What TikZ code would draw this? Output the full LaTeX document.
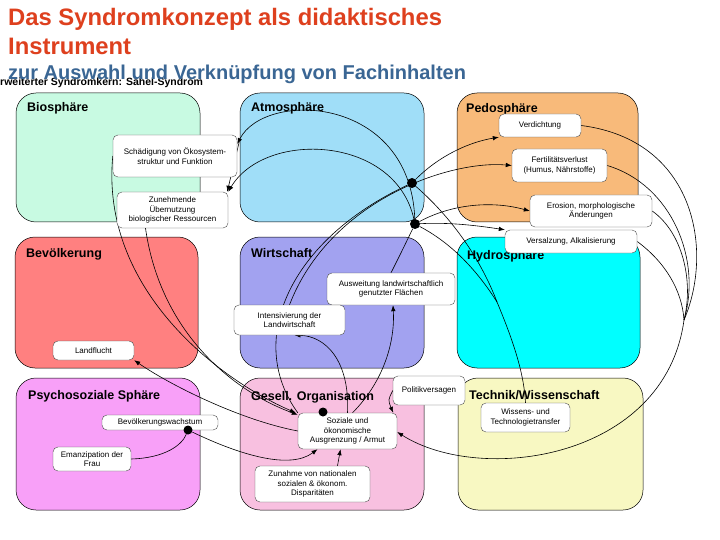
\documentclass[tikz,border=0pt]{standalone}
\usepackage{fontspec}
\setmainfont{Liberation Sans}
\usetikzlibrary{arrows.meta}
\definecolor{titlered}{RGB}{222,64,30}
\definecolor{subblue}{RGB}{58,102,148}
\definecolor{cbio}{RGB}{200,250,226}
\definecolor{catm}{RGB}{160,222,248}
\definecolor{cped}{RGB}{248,186,122}
\definecolor{cbev}{RGB}{255,128,128}
\definecolor{cwir}{RGB}{162,162,240}
\definecolor{chyd}{RGB}{0,255,255}
\definecolor{cpsy}{RGB}{248,160,248}
\definecolor{cges}{RGB}{248,192,224}
\definecolor{ctec}{RGB}{248,248,194}
\pgfdeclarelayer{bg}
\pgfdeclarelayer{cons}
\pgfsetlayers{bg,cons,main}
\begin{document}
\begin{tikzpicture}[x=1pt,y=-1pt,
  sphere/.style={draw=black, line width=0.5pt, rounded corners=20pt, inner sep=0pt},
  slabel/.style={anchor=base west, font=\bfseries\fontsize{12.5}{14}\selectfont, inner sep=0pt},
  wbox/.style={draw=black!70, line width=0.4pt, fill=white, rounded corners=5pt, align=center,
    font=\fontsize{8}{9.5}\selectfont, inner sep=0pt},
  con/.style={line width=0.6pt, -{Latex[length=6pt,width=4.5pt]}},
  plain/.style={line width=0.6pt},
  hub/.style={circle, fill=black, minimum size=10pt, inner sep=0pt}]
\useasboundingbox (0,0) rectangle (720,540);

\begin{pgfonlayer}{bg}
\fill[white] (0,0) rectangle (720,540);
% spheres
\node[sphere, fill=cbio, minimum width=184pt, minimum height=129pt] (bio) at (108,157.5) {};
\node[sphere, fill=catm, minimum width=184pt, minimum height=129pt] (atm) at (332,157.5) {};
\node[sphere, fill=cped, minimum width=181pt, minimum height=129pt] (ped) at (547.5,157.5) {};
\node[sphere, fill=cbev, minimum width=183pt, minimum height=131pt] (bev) at (106.5,302.5) {};
\node[sphere, fill=cwir, minimum width=184pt, minimum height=131pt] (wir) at (332,302.5) {};
\node[sphere, fill=chyd, minimum width=183pt, minimum height=131pt] (hyd) at (548.5,302.5) {};
\node[sphere, fill=cpsy, minimum width=184pt, minimum height=132pt] (psy) at (108,444) {};
\node[sphere, fill=cges, minimum width=184pt, minimum height=132pt] (ges) at (332,444) {};
\node[sphere, fill=ctec, minimum width=185pt, minimum height=132pt] (tec) at (550.5,444) {};

\node[slabel] (lbio) at (27,112) {Biosphäre};
\node[slabel] (latm) at (251,112) {Atmosphäre};
\node[slabel] (lped) at (466,113) {Pedosphäre};
\node[slabel] (lbev) at (26,258) {Bevölkerung};
\node[slabel] (lwir) at (251,258) {Wirtschaft};
\node[slabel] (lhyd) at (467,259) {Hydrosphäre};
\node[slabel] (lpsy) at (28,399) {Psychosoziale Sphäre};
\node[slabel] (lges) at (251,400) {Gesell. Organisation};
\node[slabel] (ltec) at (469,399) {Technik/Wissenschaft};

% titles
\node[anchor=base west, inner sep=0pt, font=\bfseries\fontsize{10.5}{12}\selectfont] (kern) at (0,86) {rweiterter Syndromkern: Sahel-Syndrom};
\node[anchor=base west, inner sep=0pt, text=titlered, font=\bfseries\fontsize{23.8}{28}\selectfont] (t1) at (8,26) {Das Syndromkonzept als didaktisches};
\node[anchor=base west, inner sep=0pt, text=titlered, font=\bfseries\fontsize{23.8}{28}\selectfont] (t2) at (8,55) {Instrument};
\node[anchor=base west, inner sep=0pt, text=subblue, font=\bfseries\fontsize{20}{23}\selectfont] (t3) at (8,80) {zur Auswahl und Verknüpfung von Fachinhalten};
\end{pgfonlayer}

% inner boxes
\node[wbox, minimum width=124pt, minimum height=42pt] (schaed) at (175,156) {Schädigung von Ökosystem-\\struktur und Funktion};
\node[wbox, minimum width=111pt, minimum height=36pt] (zun) at (172.5,210) {Zunehmende\\Übernutzung\\biologischer Ressourcen};
\node[wbox, minimum width=82pt, minimum height=23pt] (verd) at (540,125.5) {Verdichtung};
\node[wbox, minimum width=95pt, minimum height=33pt] (fert) at (559.5,165.5) {Fertilitätsverlust\\(Humus, Nährstoffe)};
\node[wbox, minimum width=122pt, minimum height=32pt] (eros) at (591,211) {Erosion, morphologische\\Änderungen};
\node[wbox, minimum width=132pt, minimum height=23pt] (vers) at (571,241.5) {Versalzung, Alkalisierung};
\node[wbox, minimum width=81pt, minimum height=19pt] (land) at (93.5,350.5) {Landflucht};
\node[wbox, minimum width=128pt, minimum height=32pt] (ausw) at (391,289) {Ausweitung landwirtschaftlich\\genutzter Flächen};
\node[wbox, minimum width=111pt, minimum height=30pt] (inten) at (289.5,320) {Intensivierung der\\Landwirtschaft};
\node[wbox, minimum width=116pt, minimum height=15pt] (bevw) at (160,422.5) {Bevölkerungswachstum};
\node[wbox, minimum width=78pt, minimum height=24pt] (eman) at (92,459) {Emanzipation der\\Frau};
\node[wbox, minimum width=72pt, minimum height=29pt] (polit) at (429,390.5) {Politikversagen};
\node[wbox, minimum width=99pt, minimum height=36pt] (soz) at (347.5,431) {Soziale und\\ökonomische\\Ausgrenzung / Armut};
\node[wbox, minimum width=115pt, minimum height=36pt] (zun2) at (312.5,484) {Zunahme von nationalen\\sozialen \& ökonom.\\Disparitäten};
\node[wbox, minimum width=89pt, minimum height=29pt] (wiss) at (525.5,417.5) {Wissens- und\\Technologietransfer};

% hubs
\node[hub] (d1) at (412,183) {};
\node[hub] (d2) at (415,224) {};
\node[hub, minimum size=9pt] (d3) at (188,430) {};
\node[hub, minimum size=9pt] (d4) at (323,412) {};
\coordinate (J) at (684,320);
\coordinate (M) at (497,302);

% connectors
\begin{pgfonlayer}{cons}
\draw[plain] (soz.north west) .. controls (245,340) and (290,240) .. (d1);
\draw[con] (d1) .. controls (440,155) and (470,142) .. (verd.south west);
\draw[con] (inten.north) .. controls (330,200) and (450,160) .. (fert.west);
\draw[con] (d2) .. controls (450,205) and (490,200) .. (eros.west);
\draw[con] (d2) .. controls (450,222) and (480,226) .. (vers.north west);
\draw[plain] (ausw.north) .. controls (400,255) .. (d2);
\draw[con] (d2) .. controls (410,95) and (265,90) .. ([yshift=12pt]schaed.east);
\draw[con] (d2) .. controls (395,135) and (265,130) .. (zun.north east);
\draw[con] ([yshift=14pt,xshift=2pt]schaed.east) -- ([xshift=-1pt]zun.north east);
\draw[con] (schaed.west) .. controls (100,290) and (220,380) .. ([xshift=-2pt]soz.north west);
\draw[con] ([xshift=-27pt]zun.south) .. controls (160,330) and (230,390) .. ([yshift=-2pt]soz.north west);
\draw[con] (soz.west) .. controls (240,420) and (170,385) .. (land.south east);
\draw[con] (d3) .. controls (240,455) and (290,470) .. ([xshift=-30pt]soz.south);
\draw[plain] (eman.east) .. controls (165,458) and (182,445) .. (d3);
\draw[con] ([xshift=25pt]zun2.north) -- ([xshift=-7pt]soz.south);
\draw[con] (polit.west) .. controls (388,400) .. ([xshift=-4pt]soz.north east);
\draw[con] (soz.north) .. controls (350,360) and (325,336) .. ([xshift=5pt]inten.south);
\draw[con] ([xshift=5pt]soz.north) .. controls (385,380) and (395,340) .. ([xshift=2pt]ausw.south);

\draw[plain] (verd.east) .. controls (695,140) and (714,250) .. (J);
\draw[plain] (fert.east) .. controls (672,185) and (702,260) .. (J);
\draw[plain] (eros.east) .. controls (682,232) and (694,280) .. (J);
\draw[plain] (vers.east) .. controls (665,262) and (682,290) .. (J);
\draw[con] (J) .. controls (665,460) and (480,485) .. ([yshift=-1pt]soz.east);

\draw[plain] (d1) .. controls (460,225) and (485,270) .. (M);
\draw[plain] (d2) .. controls (455,245) and (480,275) .. (M);
\draw[plain] (M) .. controls (515,345) and (524,375) .. (wiss.north);
\end{pgfonlayer}
\end{tikzpicture}
\end{document}
